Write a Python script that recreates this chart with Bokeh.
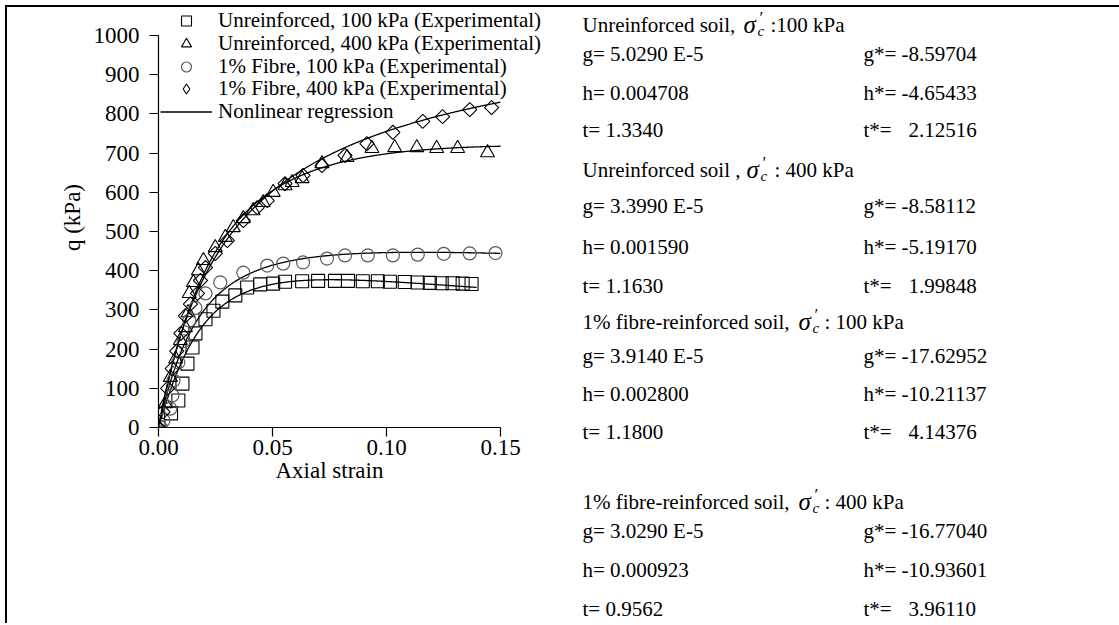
import numpy as np
from bokeh.plotting import figure
from bokeh.models import (Range1d, FixedTicker, Legend, LegendItem, Label, Title,
                          PrintfTickFormatter)
from bokeh.embed import file_html
from bokeh.resources import INLINE

# ---- Experimental triaxial results (axial strain, deviator stress q in kPa) ----
u100_strain = [0.0000, 0.0055, 0.0087, 0.0105, 0.0127, 0.0149, 0.0162, 0.0206, 0.0241, 0.0280,
               0.0337, 0.0389, 0.0446, 0.0503, 0.0555, 0.0630, 0.0700, 0.0774, 0.0831, 0.0896,
               0.0962, 0.1015, 0.1080, 0.1137, 0.1190, 0.1242, 0.1290, 0.1334, 0.1373]
u100_q = [0, 36, 69, 112, 163, 204, 240, 276, 298, 321,
          337, 357, 365, 367, 372, 373, 374, 374, 374, 373,
          373, 372, 371, 370, 369, 368, 368, 367, 366]

u400_strain = [0.0000, 0.0030, 0.0052, 0.0075, 0.0096, 0.0118, 0.0130, 0.0135, 0.0153, 0.0175,
               0.0197, 0.0249, 0.0293, 0.0328, 0.0372, 0.0415, 0.0459, 0.0503, 0.0555, 0.0586,
               0.0630, 0.0717, 0.0827, 0.0936, 0.1036, 0.1133, 0.1220, 0.1312, 0.1443]
u400_q = [0, 61, 128, 175, 222, 255, 293, 342, 370, 400,
          426, 459, 485, 510, 533, 553, 574, 600, 617, 625,
          635, 673, 689, 712, 714, 714, 712, 712, 701]

f100_strain = [0.0009, 0.0022, 0.0052, 0.0061, 0.0066, 0.0087, 0.0110, 0.0135, 0.0162, 0.0206,
               0.0271, 0.0372, 0.0477, 0.0547, 0.0634, 0.0739, 0.0818, 0.0918, 0.1028, 0.1137,
               0.1251, 0.1365, 0.1478]
f100_q = [0, 18, 48, 82, 120, 166, 220, 273, 305, 342,
          370, 395, 413, 418, 421, 431, 439, 439, 439, 441,
          443, 444, 445]

f400_strain = [0.0000, 0.0020, 0.0040, 0.0060, 0.0080, 0.0098, 0.0118, 0.0140, 0.0171, 0.0184,
               0.0206, 0.0249, 0.0302, 0.0372, 0.0433, 0.0477, 0.0555, 0.0634, 0.0717, 0.0818,
               0.0914, 0.1028, 0.1159, 0.1246, 0.1365, 0.1461]
f400_q = [0, 40, 100, 150, 195, 240, 285, 315, 342, 375,
          408, 444, 477, 528, 561, 579, 622, 643, 668, 694,
          724, 753, 781, 793, 811, 816]

legend_labels = ["Unreinforced, 100 kPa (Experimental)", "Unreinforced, 400 kPa (Experimental)",
                 "1% Fibre, 100 kPa (Experimental)", "1% Fibre, 400 kPa (Experimental)",
                 "Nonlinear regression"]
x_ticks = [0, 0.05, 0.10, 0.15]
y_ticks = list(range(0, 1001, 100))

# ---- Fitted model q = eps / (g + h * eps**t) ----
g_vals = [5.0290e-5, 3.3990e-5, 3.9140e-5, 3.0290e-5]
h_vals = [0.004708, 0.001590, 0.002800, 0.000923]
t_vals = [1.3340, 1.1630, 1.1800, 0.9562]
fit_end = [0.1395, 0.15, 0.15, 0.15]

g_text = ["5.0290 E-5", "3.3990 E-5", "3.9140 E-5", "3.0290 E-5"]
h_text = ["0.004708", "0.001590", "0.002800", "0.000923"]
t_text = ["1.3340", "1.1630", "1.1800", "0.9562"]
gs_text = ["-8.59704", "-8.58112", "-17.62952", "-16.77040"]
hs_text = ["-4.65433", "-5.19170", "-10.21137", "-10.93601"]
ts_text = ["2.12516", "1.99848", "4.14376", "3.96110"]
block_titles = ["Unreinforced soil, ", "Unreinforced soil , ",
                "1% fibre-reinforced soil, ", "1% fibre-reinforced soil, "]
block_pressure = [":100 kPa", ": 400 kPa", ": 100 kPa", ": 400 kPa"]

FONT = "Liberation Serif"

# ---- page geometry: both panels sit inside a cell whose border is 7 px from the edge ----
ORIGIN_X, ORIGIN_Y = 158, 427        # axes origin on the page
SPLIT_X = 560                        # right edge of the chart canvas
PANEL_X = 556                        # left edge of the parameter panel (overlaps the cell line)
PX_PER_STRAIN = 342 / 0.15
PX_PER_KPA = 392 / 1000
H = 618
frame_w = SPLIT_X - ORIGIN_X
frame_h = ORIGIN_Y - 7

p = figure(width=SPLIT_X - 7, height=H, output_backend="svg", toolbar_location=None,
           x_range=Range1d(0, frame_w / PX_PER_STRAIN),
           y_range=Range1d(0, frame_h / PX_PER_KPA),
           min_border_left=ORIGIN_X - 7, min_border_right=0,
           min_border_top=0, min_border_bottom=H - frame_h)
p.styles = {"position": "absolute", "left": "5px", "top": "5px",
            "border-left": "2px solid black", "border-top": "2px solid black"}
p.outline_line_color = None
p.xgrid.visible = False
p.ygrid.visible = False

xa, ya = p.xaxis[0], p.yaxis[0]
xa.bounds = (0, 0.15)
ya.bounds = (0, 1000)
xa.ticker = FixedTicker(ticks=x_ticks)
ya.ticker = FixedTicker(ticks=y_ticks)
xa.formatter = PrintfTickFormatter(format="%.2f")
for ax in (xa, ya):
    ax.axis_line_color = "black"
    ax.axis_line_width = 1.2
    ax.major_tick_line_color = "black"
    ax.major_tick_line_width = 1.2
    ax.major_tick_in = 0
    ax.major_tick_out = 9
    ax.minor_tick_line_color = None
    ax.major_label_text_font = FONT
    ax.major_label_text_font_size = "23px"
    ax.major_label_text_color = "black"
    ax.axis_label_text_font = FONT
    ax.axis_label_text_font_size = "23px"
    ax.axis_label_text_font_style = "normal"
    ax.axis_label_text_color = "black"
ya.axis_label = "q (kPa)"
xa.major_label_standoff = 3
xa.axis_label_standoff = 0
ya.major_label_standoff = 10
ya.axis_label_standoff = 6

# x-axis title, centred under the 0 - 0.15 span of the axis
p.add_layout(Title(text="Axial strain", align="left", offset=117, standoff=0,
                   vertical_align="top", text_line_height=0.8,
                   text_font=FONT, text_font_size="23px", text_font_style="normal",
                   text_color="black"), "below")

# fitted curves
fit_renderers = []
for g, h, t, e_end in zip(g_vals, h_vals, t_vals, fit_end):
    eps = np.linspace(0, e_end, 400)
    q = eps / (g + h * eps ** t)
    fit_renderers.append(p.line(eps, q, line_color="black", line_width=1.3))

# experimental points
r_sq = p.scatter(u100_strain, u100_q, marker="square", size=13, fill_color=None,
                 line_color="black", line_width=1.1)
r_tri = p.scatter(u400_strain, u400_q, marker="triangle", size=14, fill_color=None,
                  line_color="black", line_width=1.1)
r_cir = p.scatter(f100_strain, f100_q, marker="circle", size=13, fill_color=None,
                  line_color="#5a5a5a", line_width=1.2)
r_dia = p.scatter(f400_strain, f400_q, marker="square", angle=np.pi / 4, size=10,
                  fill_color=None, line_color="black", line_width=1.1)
# diamond swatch for the legend (legend swatches ignore marker angle)
r_dia_key = p.scatter([np.nan], [np.nan], marker="diamond", size=12, fill_color=None,
                      line_color="black", line_width=1.1)

# one single-entry legend per row so the rows can sit tighter than the text line height
key_renderers = [r_sq, r_tri, r_cir, r_dia_key, fit_renderers[0]]
ROW_H = 25
for k, (lab, rend) in enumerate(zip(legend_labels, key_renderers)):
    row_center = 20.5 + 22.75 * k                    # page y of the entry's centre
    p.add_layout(Legend(
        items=[LegendItem(label=lab, renderers=[rend])],
        location=(2, ORIGIN_Y - row_center - ROW_H / 2), margin=0, padding=0, spacing=0,
        glyph_width=52, glyph_height=ROW_H, label_height=ROW_H, label_standoff=6,
        label_text_font=FONT, label_text_font_size="21px",
        label_text_color="black", border_line_color=None, background_fill_alpha=0))

# ---- parameter panel ----
PW = 1119 - PANEL_X
q_panel = figure(width=PW, height=H, output_backend="svg", toolbar_location=None,
                 x_range=Range1d(0, 1), y_range=Range1d(0, 1),
                 x_axis_type=None, y_axis_type=None,
                 min_border_left=0, min_border_right=0, min_border_top=0, min_border_bottom=0)
q_panel.styles = {"position": "absolute", "left": f"{PANEL_X}px", "top": "5px",
                  "border-top": "2px solid black"}
q_panel.outline_line_color = None
q_panel.xgrid.visible = False
q_panel.ygrid.visible = False


def put(text, x, y, size="21px", style="normal"):
    q_panel.add_layout(Label(x=x - PANEL_X, y=625 - y, x_units="screen", y_units="screen",
                             text=text, text_font=FONT, text_font_size=size,
                             text_font_style=style, text_color="black",
                             text_baseline="middle", text_align="left"))


LEFT_X, RIGHT_X, RIGHT_VAL_X = 582, 863, 908
title_y = [24, 169, 321, 501]
rows_y = [[53, 92, 129], [205, 246, 285], [355, 393, 431], [530, 569, 608]]
sigma_x = [743, 746, 798, 798]
colon_x = [770, 774, 824, 824]

for i in range(4):
    ty = title_y[i]
    put(block_titles[i], LEFT_X, ty)
    put("σ", sigma_x[i], ty, size="25px", style="italic")
    put("c", sigma_x[i] + 14, ty + 6, size="15px", style="italic")
    put("′", sigma_x[i] + 16, ty - 7, size="17px")
    put(block_pressure[i], colon_x[i], ty)
    gy, hy, tyy = rows_y[i]
    put("g= " + g_text[i], LEFT_X, gy)
    put("h= " + h_text[i], LEFT_X, hy)
    put("t= " + t_text[i], LEFT_X, tyy)
    put("g*= " + gs_text[i], RIGHT_X, gy)
    put("h*= " + hs_text[i], RIGHT_X, hy)
    put("t*=", RIGHT_X, tyy)
    put(ts_text[i], RIGHT_VAL_X, tyy)

open("out.html", "w").write(file_html([p, q_panel], INLINE))
